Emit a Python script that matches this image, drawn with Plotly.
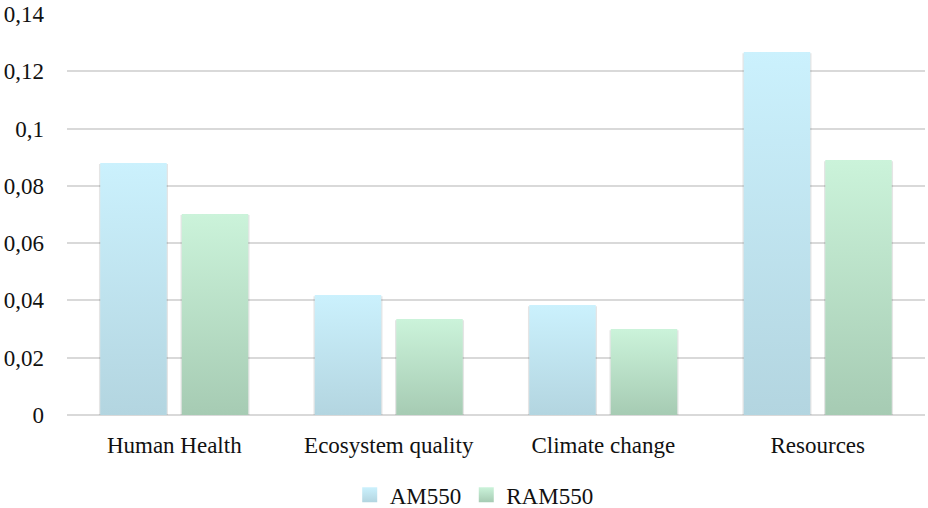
import plotly.graph_objects as go

# Impact categories and normalised damage scores per scenario
categories = ["Human Health", "Ecosystem quality", "Climate change", "Resources"]
am550 = [0.088, 0.0419, 0.0384, 0.1267]
ram550 = [0.0702, 0.0335, 0.0300, 0.0890]
y_ticks = [0, 0.02, 0.04, 0.06, 0.08, 0.1, 0.12, 0.14]
y_tick_text = ["0", "0,02", "0,04", "0,06", "0,08", "0,1", "0,12", "0,14"]

series = [
    ("AM550", am550, "#cbf1fd", "#b3d5e0", -0.19),
    ("RAM550", ram550, "#cbf3da", "#a6cbb3", 0.19),
]
bar_w = 0.31

FAMILY = "Liberation Serif"


def txt(size=23):
    return dict(family=FAMILY, size=size, color="#111111")


fig = go.Figure()

for name, vals, top, bottom, off in series:
    for i, v in enumerate(vals):
        x0, x1 = i + off - bar_w / 2, i + off + bar_w / 2
        # soft drop shadow under each bar
        fig.add_trace(go.Scatter(
            x=[x0 - 0.006, x1 + 0.006, x1 + 0.006, x0 - 0.006, x0 - 0.006],
            y=[-0.0009, -0.0009, v - 0.0004, v - 0.0004, -0.0009],
            mode="lines", line=dict(width=0), fill="toself",
            fillcolor="rgba(0,0,0,0.10)", hoverinfo="skip", showlegend=False,
        ))
        # bar body with a vertical gradient, light at the top
        fig.add_trace(go.Scatter(
            x=[x0, x1, x1, x0, x0],
            y=[0, 0, v, v, 0],
            mode="lines", line=dict(width=0), fill="toself",
            fillgradient=dict(type="vertical", colorscale=[[0, bottom], [1, top]]),
            name=name, legendgroup=name, showlegend=False,
        ))

# legend swatches
for name, vals, top, bottom, off in series:
    fig.add_trace(go.Scatter(
        x=[None], y=[None], mode="markers", name=name, legendgroup=name,
        marker=dict(symbol="square", size=15, color=top,
                    gradient=dict(type="vertical", color=bottom), line=dict(width=0)),
    ))

fig.update_layout(
    width=928, height=508,
    margin=dict(l=67, r=3, t=14, b=93),
    paper_bgcolor="white", plot_bgcolor="white",
    font=txt(),
    showlegend=True,
    legend=dict(orientation="h", xref="container", yref="container",
                x=0.511, xanchor="center", y=0.026, yanchor="middle",
                font=txt(), itemwidth=30, traceorder="normal"),
)
fig.update_xaxes(range=[-0.5, 3.5], tickvals=list(range(len(categories))),
                 ticktext=categories, tickfont=txt(), showgrid=False, zeroline=False,
                 showline=False, ticks="", ticklabelstandoff=14, fixedrange=True)
fig.update_yaxes(range=[0, 0.14], tickvals=y_ticks, ticktext=y_tick_text, tickfont=txt(),
                 showgrid=True, gridcolor="#d9d9d9", gridwidth=1.5,
                 zeroline=True, zerolinecolor="#d9d9d9", zerolinewidth=1.5,
                 showline=False, ticks="", ticklabelstandoff=22, fixedrange=True)

fig.write_html("out.html")
